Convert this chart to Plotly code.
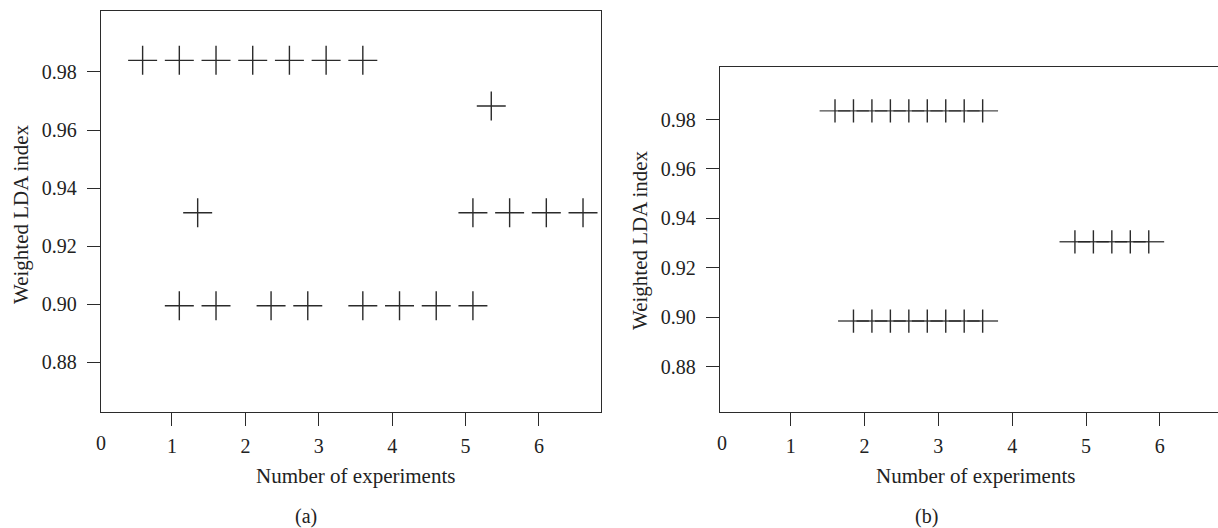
import plotly.graph_objects as go

# ---------------- data ----------------
# panel (a)
a_x = [0.6, 1.1, 1.6, 2.1, 2.6, 3.1, 3.6,
       1.35,
       1.1, 1.6, 2.35, 2.85, 3.6, 4.1, 4.6, 5.1,
       5.35,
       5.1, 5.6, 6.1, 6.6]
a_y = [0.984, 0.984, 0.984, 0.984, 0.984, 0.984, 0.984,
       0.9315,
       0.8995, 0.8995, 0.8995, 0.8995, 0.8995, 0.8995, 0.8995, 0.8995,
       0.9683,
       0.9315, 0.9315, 0.9315, 0.9315]

# panel (b)
b_x = [1.6, 1.85, 2.1, 2.35, 2.6, 2.85, 3.1, 3.35, 3.6,
       1.85, 2.1, 2.35, 2.6, 2.85, 3.1, 3.35, 3.6,
       4.85, 5.1, 5.35, 5.6, 5.85]
b_y = [0.9835, 0.9835, 0.9835, 0.9835, 0.9835, 0.9835, 0.9835, 0.9835, 0.9835,
       0.8984, 0.8984, 0.8984, 0.8984, 0.8984, 0.8984, 0.8984, 0.8984,
       0.9305, 0.9305, 0.9305, 0.9305, 0.9305]

x_ticks = [1, 2, 3, 4, 5, 6]
y_ticks = [0.88, 0.90, 0.92, 0.94, 0.96, 0.98]
y_ticktext = ["0.88", "0.90", "0.92", "0.94", "0.96", "0.98"]

x_title = "Number of experiments"
y_title = "Weighted LDA index"
panel_labels = ["(a)", "(b)"]

# ---------------- figure ----------------
W, H = 1218, 528
FONT = "Liberation Serif, Times New Roman, serif"
INK = "#2b2b2b"

fig = go.Figure()

fig.add_trace(go.Scatter(
    x=a_x, y=a_y, mode="markers", xaxis="x", yaxis="y", showlegend=False,
    marker=dict(symbol="cross-thin", size=20.7, color=INK,
                line=dict(color=INK, width=1.4)),
))
fig.add_trace(go.Scatter(
    x=b_x, y=b_y, mode="markers", xaxis="x2", yaxis="y2", showlegend=False,
    marker=dict(symbol="line-ew", size=22, color="rgba(30,30,30,0.8)",
                line=dict(color="rgba(30,30,30,0.8)", width=1.4)),
))
fig.add_trace(go.Scatter(
    x=b_x, y=b_y, mode="markers", xaxis="x2", yaxis="y2", showlegend=False,
    marker=dict(symbol="line-ns", size=16.6, color=INK,
                line=dict(color=INK, width=1.4)),
))

axis_common = dict(
    showgrid=False, zeroline=False, showline=True, linecolor=INK, linewidth=1.3,
    ticks="outside", ticklen=13, tickwidth=1.3, tickcolor=INK,
    tickfont=dict(family=FONT, size=20, color="#222"), automargin=False,
)

def px_x(p):
    return p / W

def px_y(p):
    return 1 - p / H

fig.update_layout(
    width=W, height=H,
    margin=dict(l=0, r=0, t=0, b=0),
    paper_bgcolor="white", plot_bgcolor="white",
    font=dict(family=FONT, size=20, color="#222"),
    xaxis=dict(domain=[px_x(101), px_x(601)], range=[0.033, 6.845],
               tickmode="array", tickvals=x_ticks, mirror=True, anchor="y",
               ticklabelstandoff=3, **axis_common),
    yaxis=dict(domain=[px_y(412), px_y(11)], range=[0.8629, 1.001],
               tickmode="array", tickvals=y_ticks, ticktext=y_ticktext,
               mirror=True, anchor="x", ticklabelstandoff=6, **axis_common),
    xaxis2=dict(domain=[px_x(720), 1.0], range=[0.042, 6.788],
                tickmode="array", tickvals=x_ticks, mirror=True, anchor="y2",
                ticklabelstandoff=3, **axis_common),
    yaxis2=dict(domain=[px_y(411.7), px_y(66.7)], range=[0.8617, 1.0014],
                tickmode="array", tickvals=y_ticks, ticktext=y_ticktext,
                mirror=False, anchor="x2", ticklabelstandoff=6, **axis_common),
)

ann = []
def txt(text, xp, yp, angle=0, size=20):
    ann.append(dict(text=text, x=px_x(xp), y=px_y(yp), xref="paper", yref="paper",
                    xanchor="center", yanchor="middle", showarrow=False,
                    textangle=angle, font=dict(family=FONT, size=size, color="#222")))

# "0" labels at the axis origins
txt("0", 101, 443)
txt("0", 722, 443)
# axis titles
txt(x_title, 355, 476, size=21)
txt(x_title, 975, 476, size=21)
txt(y_title, 21, 214, -90, size=21)
txt(y_title, 640, 240, -90, size=21)
# panel labels
txt(panel_labels[0], 306, 516)
txt(panel_labels[1], 926, 516)

fig.update_layout(annotations=ann)

fig.write_html(
    "out.html",
    config={"displayModeBar": False},
    post_script="document.body.style.margin='0';document.body.style.overflow='hidden';",
)
